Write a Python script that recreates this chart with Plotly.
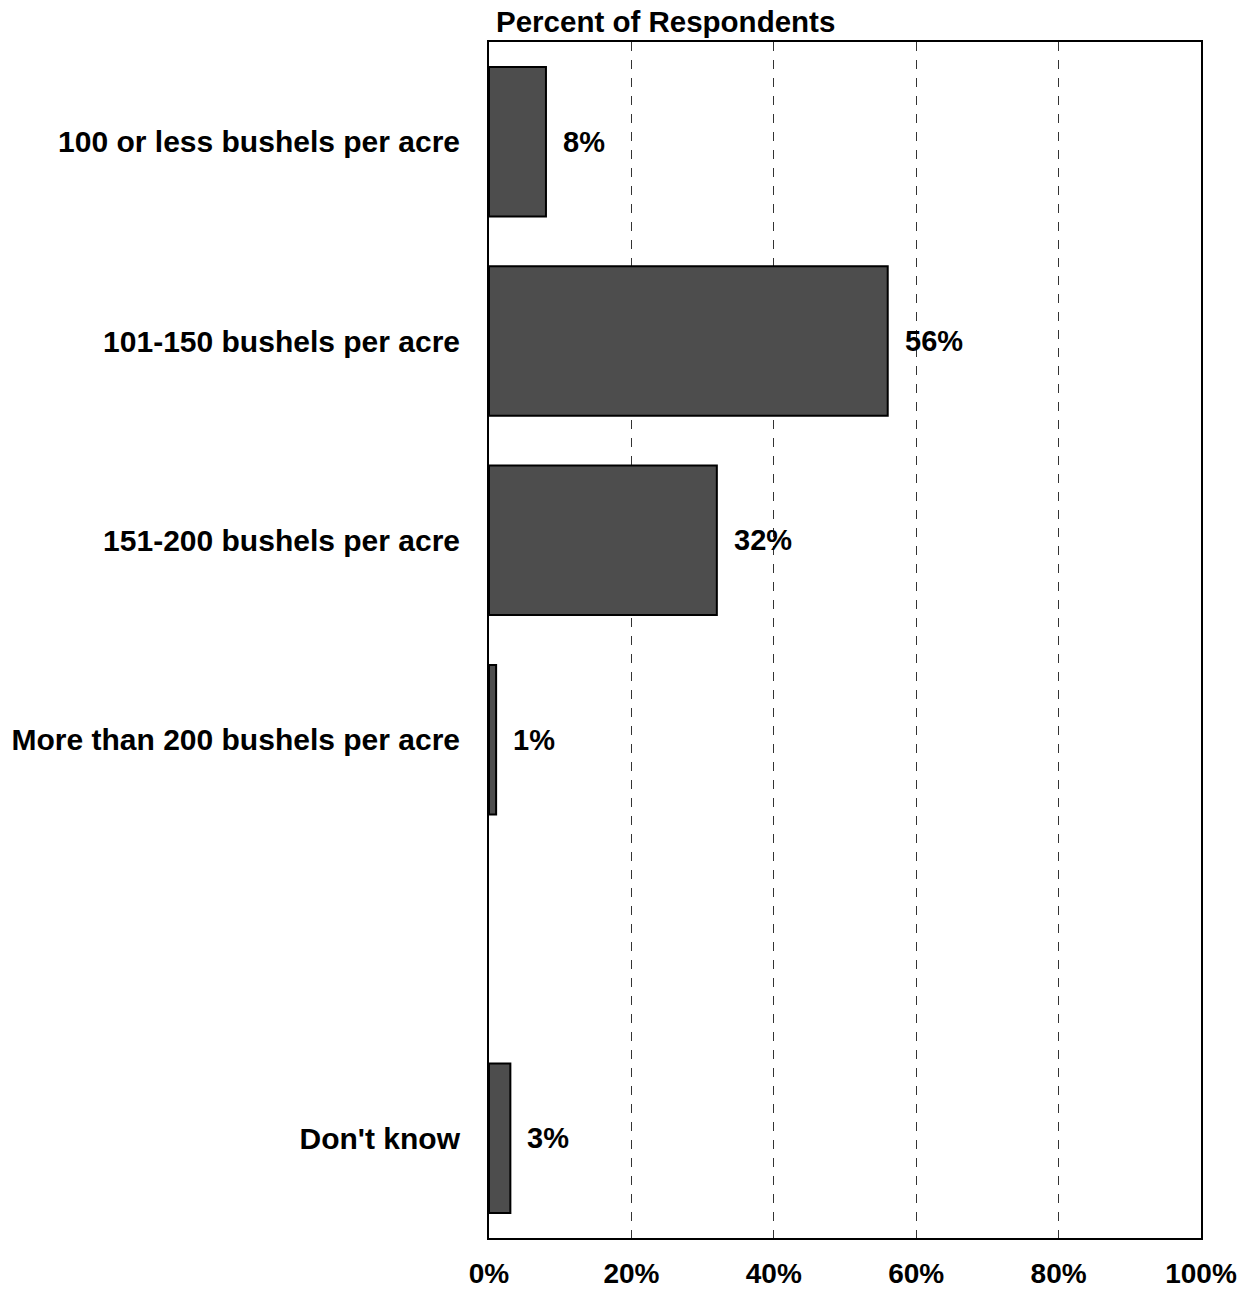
import plotly.graph_objects as go

categories = ["100 or less bushels per acre", "101-150 bushels per acre",
              "151-200 bushels per acre", "More than 200 bushels per acre",
              " ", "Don't know"]
values = [8, 56, 32, 1, None, 3]
labels = ["8%", "56%", "32%", "1%", "", "3%"]
tick_vals = [0, 20, 40, 60, 80, 100]
tick_text = ["0%", "20%", "40%", "60%", "80%", "100%"]

FONT = "Liberation Sans, Arial, sans-serif"

fig = go.Figure()
fig.add_trace(go.Bar(
    y=categories, x=values, orientation="h", width=0.75,
    marker=dict(color="#4d4d4d", line=dict(color="black", width=2)),
    hoverinfo="skip",
))

for c, v, t in zip(categories, values, labels):
    if v is None:
        continue
    fig.add_annotation(x=v, y=c, text=f"<b>{t}</b>", showarrow=False,
                       xanchor="left", xshift=15,
                       font=dict(family=FONT, size=29, color="black"))

fig.add_annotation(x=0, y=1, xref="x", yref="paper", text="<b>Percent of Respondents</b>",
                   showarrow=False, xanchor="left", yanchor="bottom", xshift=5, yshift=2,
                   font=dict(family=FONT, size=29.5, color="black"))

fig.update_layout(
    width=1251, height=1291,
    margin=dict(l=489, r=50, t=42, b=53, autoexpand=False),
    plot_bgcolor="white", paper_bgcolor="white",
    showlegend=False,
    font=dict(family=FONT, color="black"),
    xaxis=dict(range=[0, 100], tickvals=tick_vals, ticktext=[f"<b>{t}</b>" for t in tick_text],
               showgrid=True, gridcolor="#333333", griddash="dash", gridwidth=1,
               showline=True, linecolor="black", linewidth=2, mirror=True,
               ticks="", ticklabelstandoff=9, zeroline=False, automargin=False,
               tickfont=dict(family=FONT, size=28, color="black")),
    yaxis=dict(categoryorder="array", categoryarray=categories, autorange="reversed",
               showline=True, linecolor="black", linewidth=2, mirror=True,
               ticks="", ticklabelstandoff=21, showgrid=False, automargin=False,
               tickvals=categories, ticktext=[f"<b>{c}</b>" for c in categories],
               tickfont=dict(family=FONT, size=30, color="black")),
)

fig.write_html("out.html", config={"displayModeBar": False},
               post_script="document.body.style.margin='0';document.body.style.overflow='hidden';")
